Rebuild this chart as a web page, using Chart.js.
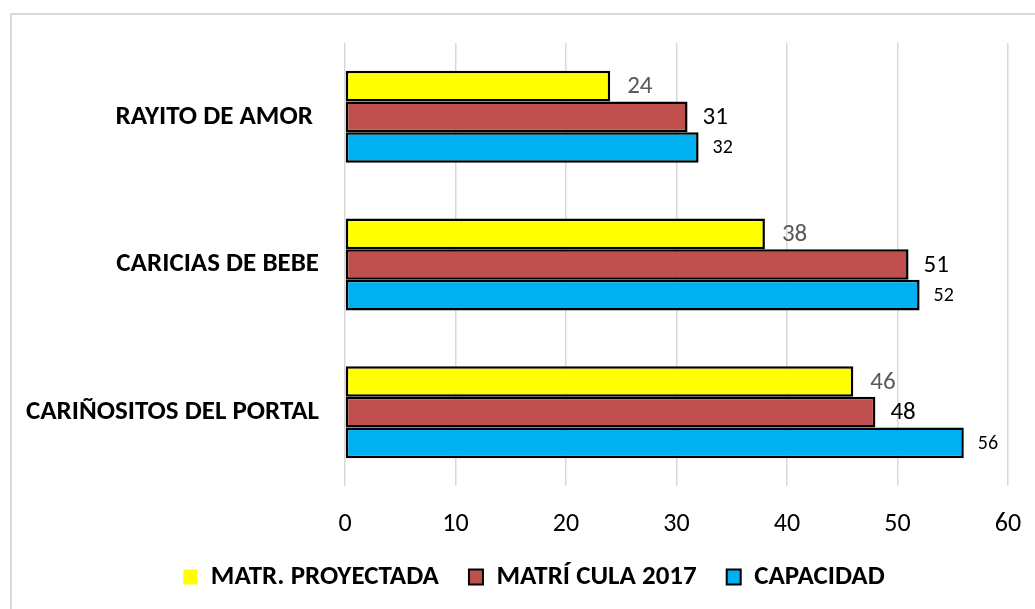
<!DOCTYPE html>
<html>
<head>
<meta charset="utf-8">
<script src="https://cdn.jsdelivr.net/npm/chart.js@4.4.1/dist/chart.umd.min.js"></script>
<style>
  html, body { margin: 0; padding: 0; background: #ffffff; overflow: hidden; }
  #wrap { position: relative; width: 1035px; height: 609px; }
  #frame { position: absolute; left: 10px; top: 13px; width: 1100px; height: 700px;
           border: 2px solid #d9d9d9; box-sizing: border-box; pointer-events: none; }
  canvas { position: absolute; left: 0; top: 0; }
</style>
</head>
<body>
<div id="wrap">
  <div id="frame"></div>
  <canvas id="c" width="1035" height="609"></canvas>
</div>
<script>
const categories = ["RAYITO DE AMOR ", "CARICIAS DE BEBE", "CARIÑOSITOS DEL PORTAL"];
const seriesNames = ["MATR. PROYECTADA", "MATRÍ CULA 2017", "CAPACIDAD"];
const matrProyectada = [24, 38, 46];
const matricula2017 = [31, 51, 48];
const capacidad = [32, 52, 56];
const xTicks = [0, 10, 20, 30, 40, 50, 60];

const FONT = "Carlito, Lato, 'Open Sans', sans-serif";

const colors = ["#FFFF00", "#C0504D", "#00B0F0"];
const labelStyles = [
  { color: "#595959", size: 25, dx: 17 },
  { color: "#000000", size: 25, dx: 15 },
  { color: "#000000", size: 20, dx: 14 }
];

const dataLabelPlugin = {
  id: "dataLabels",
  afterDatasetsDraw(chart) {
    const ctx = chart.ctx;
    chart.data.datasets.forEach((ds, i) => {
      const meta = chart.getDatasetMeta(i);
      const st = labelStyles[i];
      ctx.save();
      ctx.font = st.size + "px " + FONT;
      ctx.fillStyle = st.color;
      ctx.textAlign = "left";
      ctx.textBaseline = "middle";
      meta.data.forEach((el, j) => {
        ctx.fillText(String(ds.data[j]), el.x + st.dx, el.y + 1);
      });
      ctx.restore();
    });
  }
};

const legendTweakPlugin = {
  id: "legendTweak",
  beforeLayout(chart) {
    const lg = chart.legend;
    if (lg && !lg._tweaked) {
      const origFit = lg.fit.bind(lg);
      lg.fit = function () { origFit(); this.height -= 8; };
      lg._tweaked = true;
    }
  },
  afterLayout(chart) {
    const lg = chart.legend;
    if (lg) { lg.left += 30; lg.right += 30; lg.top -= 8; lg.bottom -= 8; }
  }
};

new Chart(document.getElementById("c"), {
  type: "bar",
  data: {
    labels: categories,
    datasets: [
      { label: seriesNames[0], data: matrProyectada, backgroundColor: colors[0] },
      { label: seriesNames[1], data: matricula2017, backgroundColor: colors[1] },
      { label: seriesNames[2], data: capacidad, backgroundColor: colors[2] }
    ].map(d => Object.assign(d, {
      borderColor: "#000000",
      borderWidth: 2.5,
      borderSkipped: false,
      barPercentage: 1.0,
      categoryPercentage: 0.623
    }))
  },
  options: {
    indexAxis: "y",
    responsive: false,
    devicePixelRatio: 1,
    animation: false,
    layout: { padding: { top: 43, right: 27, left: 0, bottom: 8.5 } },
    scales: {
      x: {
        min: 0, max: 60,
        afterBuildTicks(scale) { scale.ticks = xTicks.map(v => ({ value: v })); },
        grid: { color: "#D9D9D9", lineWidth: 1.5, drawTicks: false },
        border: { display: false },
        ticks: { color: "#000000", font: { family: FONT, size: 26 }, padding: 23 },
        afterFit(scale) { scale.height = 55.5; scale.paddingRight = 0; scale.paddingLeft = 0; }
      },
      y: {
        grid: { display: false, drawTicks: false },
        border: { display: false },
        ticks: { color: "#000000", font: { family: FONT, size: 27, weight: "bold" }, padding: 26 },
        afterFit(scale) { scale.width = 345; }
      }
    },
    plugins: {
      tooltip: { enabled: false },
      legend: {
        position: "bottom",
        labels: {
          color: "#000000",
          font: { family: FONT, size: 27, weight: "bold" },
          boxWidth: 14,
          boxHeight: 15,
          padding: 30,
          generateLabels(chart) {
            return chart.data.datasets.map((ds, i) => ({
              text: ds.label,
              fillStyle: ds.backgroundColor,
              strokeStyle: "#000000",
              lineWidth: i === 0 ? 0 : 2,
              fontColor: "#000000",
              datasetIndex: i,
              hidden: false
            }));
          }
        }
      }
    }
  },
  plugins: [dataLabelPlugin, legendTweakPlugin]
});
</script>
</body>
</html>
